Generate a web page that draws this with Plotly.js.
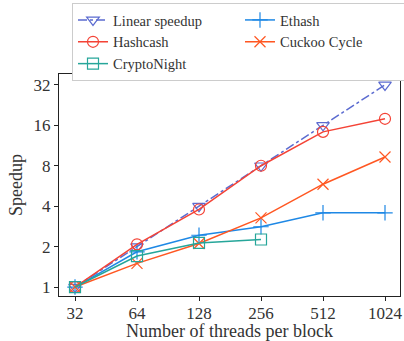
<!DOCTYPE html>
<html><head><meta charset="utf-8">
<script src="https://cdn.plot.ly/plotly-3.0.1.min.js"></script>
<style>html,body{margin:0;padding:0;background:#fff}#c{width:404px;height:341px}</style>
</head><body><div id="c"></div>
<script>
const threads = [32, 64, 128, 256, 512, 1024];
const tickLabels = ["32", "64", "128", "256", "512", "1024"];
const yTicks = [1, 2, 4, 8, 16, 32];
const linear = [1, 2, 4, 8, 16, 32];
const hashcash = [1, 2.08, 3.78, 8, 14.3, 17.9];
const cryptoNight = [1, 1.70, 2.13, 2.26];
const ethash = [1, 1.83, 2.43, 2.81, 3.57, 3.57];
const cuckoo = [1, 1.50, 2.11, 3.27, 5.83, 9.3];

const C = {lin:'#5b6bd0', hash:'#f44336', cn:'#26a69a', eth:'#1e88e5', cuc:'#ff5722'};
function tr(name, y, color, sym, dash, x) {
  return {x: x || threads, y: y, name: name, type: 'scatter', mode: 'lines+markers',
    line: {color: color, width: 1.5, dash: dash || 'solid'},
    marker: {symbol: sym, size: 11, color: color, line: {color: color, width: 1.2}}};
}
const traces = [
  tr('Linear speedup', linear, C.lin, 'triangle-down-open', 'dashdot'),
  tr('Ethash', ethash, C.eth, 'cross-thin-open'),
  tr('Hashcash', hashcash, C.hash, 'circle-open'),
  tr('Cuckoo Cycle', cuckoo, C.cuc, 'x-thin-open'),
  tr('CryptoNight', cryptoNight, C.cn, 'square-open', 'solid', threads.slice(0, 4))
];
const L2 = Math.log10(2);
const font = {family: 'Liberation Serif, DejaVu Serif, serif', size: 17, color: '#333'};
const layout = {
  width: 404, height: 341,
  margin: {l: 59, r: 4, t: 74, b: 45, autoexpand: false},
  paper_bgcolor: '#fff', plot_bgcolor: '#fff',
  font: font, showlegend: true,
  xaxis: {type: 'log', range: [4.742 * L2, 10.242 * L2], tickvals: threads, ticktext: tickLabels,
    ticks: 'outside', ticklen: 4, tickcolor: '#222', showline: true, linecolor: '#222', linewidth: 1.2,
    mirror: true, showgrid: false, zeroline: false, ticklabelstandoff: -3,
    title: {text: 'Number of threads per block', font: {size: 18}, standoff: 0}},
  yaxis: {type: 'log', range: [-0.222 * L2, 5.27 * L2], tickvals: yTicks, ticktext: yTicks.map(String),
    ticks: 'outside', ticklen: 4, tickcolor: '#222', showline: true, linecolor: '#222', linewidth: 1.2,
    mirror: true, showgrid: false, zeroline: false,
    title: {text: 'Speedup', font: {size: 18}, standoff: 6}},
  legend: {orientation: 'h', x: 13 / 341, xanchor: 'left', y: 1 + 71 / 222, yanchor: 'top',
    entrywidth: 122, entrywidthmode: 'pixels', bgcolor: '#fff', bordercolor: '#ccc', borderwidth: 1,
    font: {size: 14.5}, tracegroupgap: 0, itemwidth: 30}
};
Plotly.newPlot('c', traces, layout, {displayModeBar: false, staticPlot: true});
</script></body></html>
